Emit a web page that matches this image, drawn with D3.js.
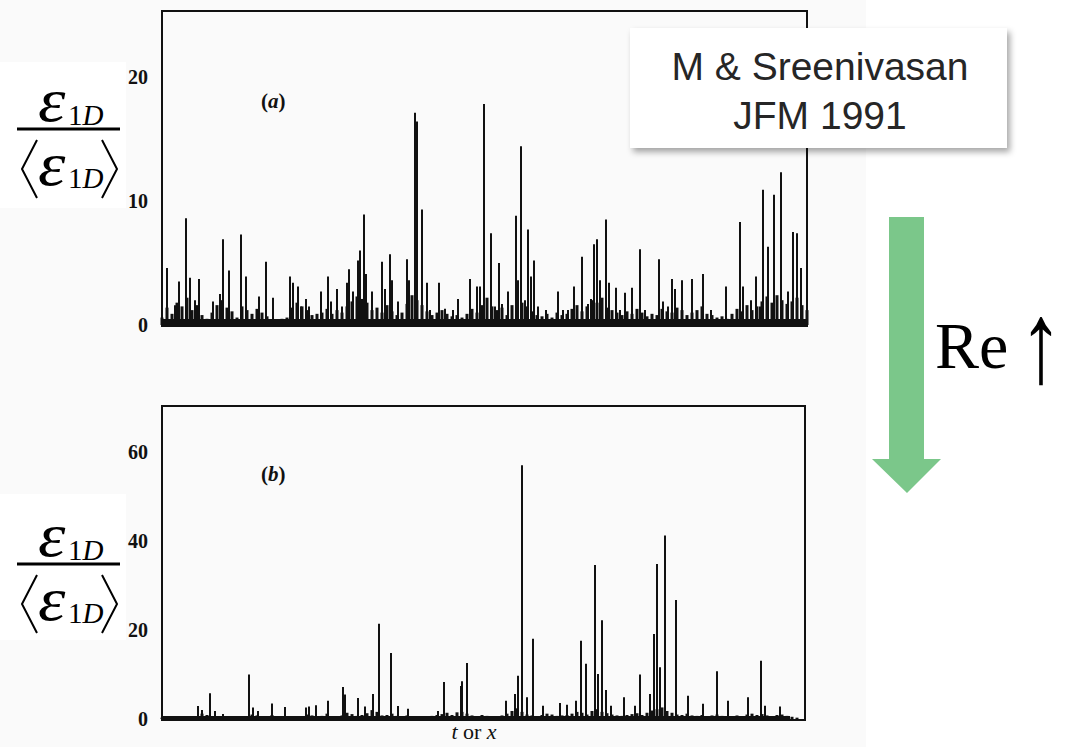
<!DOCTYPE html>
<html>
<head>
<meta charset="utf-8">
<script src="https://cdn.jsdelivr.net/npm/d3@7"></script>
<style>
  body { margin: 0; background: #fff; }
  svg { display: block; }
</style>
</head>
<body>
<div id="chart"></div>
<script>
const width = 1069;
const height = 747;

// ----- Data (arbitrary t units 0..645) -----
const ticksA = [0, 10, 20];
const ticksB = [0, 20, 40, 60];

// panel (a): isolated bursts
const peakTA = [5, 13, 17, 24, 28, 33, 37, 51, 58, 61, 67, 79, 84, 97, 104, 111, 128, 131, 136, 139,
  144, 147, 159, 166, 169, 175, 180, 185, 187, 191, 196, 198, 202, 204, 210, 220, 223, 228, 230, 236,
  245, 247, 253, 255, 260, 265, 268, 277, 283, 291, 296, 308, 315, 318, 322, 329, 333, 337, 340, 346,
  354, 356, 359, 363, 366, 369, 372, 376, 384, 396, 401, 406, 412, 420, 426, 429, 432, 435, 438, 444,
  447, 454, 458, 463, 470, 478, 483, 497, 501, 506, 510, 513, 520, 530, 541, 549, 564, 578, 581, 589,
  594, 598, 601, 606, 612, 619, 626, 631, 635, 639];
const peakVA = [4.6, 1.6, 3.5, 8.6, 3.8, 2.0, 3.7, 1.9, 2.5, 6.9, 4.4, 7.3, 3.9, 2.3, 5.1, 2.2, 3.9, 3.4, 3.1, 1.5,
  2.1, 1.5, 2.7, 3.9, 1.9, 2.9, 1.5, 3.4, 4.5, 2.7, 5.2, 6.0, 8.9, 4.1, 2.7, 5.1, 2.9, 5.7, 3.6, 1.9,
  5.3, 3.6, 17.1, 16.4, 9.3, 3.4, 1.2, 3.4, 1.3, 1.2, 2.1, 3.7, 3.1, 3.1, 17.8, 7.4, 1.5, 5.0, 1.7, 2.7,
  8.8, 3.6, 14.4, 2.0, 7.7, 3.9, 5.2, 1.5, 1.2, 2.7, 1.2, 1.2, 3.1, 5.5, 1.7, 2.1, 6.5, 6.9, 3.6, 8.5,
  3.4, 3.0, 1.2, 2.6, 3.0, 6.1, 1.2, 5.3, 1.9, 1.5, 3.7, 2.9, 3.6, 3.7, 4.1, 1.2, 3.1, 8.3, 3.1, 2.0,
  3.9, 1.5, 10.9, 6.3, 10.5, 12.3, 2.7, 7.5, 7.4, 4.6];
// panel (a): background level, one value every 5 t units
const floorA = [
  0.6, 1.4, 0.9, 1.8, 1.5, 2.2, 1.2, 1.6, 0.8, 0.5,
  1.0, 1.6, 2.0, 1.4, 1.1, 0.6, 1.5, 1.2, 0.9, 1.3,
  1.0, 0.7, 0.4, 0.3, 0.5, 0.6, 1.4, 1.8, 1.5, 1.2,
  0.8, 0.9, 1.0, 1.3, 0.9, 1.2, 1.0, 1.5, 1.9, 2.3,
  2.1, 1.8, 1.2, 1.4, 1.0, 1.6, 1.1, 0.8, 1.0, 1.7,
  2.4, 2.0, 1.6, 1.1, 0.8, 1.0, 1.2, 0.9, 0.7, 0.8,
  0.6, 0.9, 1.3, 1.0, 1.6, 2.2, 1.5, 1.2, 1.4, 0.8,
  1.6, 2.0, 1.8, 1.5, 1.1, 0.8, 0.7, 0.9, 0.6, 1.0,
  0.8, 0.9, 1.3, 1.6, 1.1, 1.5, 2.0, 1.8, 2.2, 1.4,
  1.2, 1.0, 0.8, 1.1, 0.9, 1.3, 1.0, 0.7, 0.9, 0.8,
  1.3, 1.1, 1.0, 1.4, 1.2, 0.8, 1.0, 1.2, 1.5, 0.9,
  0.8, 0.6, 0.7, 0.5, 0.9, 1.3, 1.1, 1.6, 1.2, 1.5,
  1.9, 2.3, 1.8, 2.4, 2.0, 1.7, 1.9, 2.2, 1.6, 1.2];

// panel (b): higher Re, rarer and stronger bursts
const peakTB = [36, 40, 48, 53, 61, 87, 91, 96, 110, 123, 144, 147, 154, 166, 181, 183, 196, 203, 211, 217,
  229, 236, 246, 276, 282, 299, 300, 305, 344, 353, 356, 360, 365, 371, 381, 398, 405, 414, 419, 424,
  433, 436, 440, 444, 449, 462, 473, 478, 488, 492, 495, 498, 503, 514, 526, 541, 555, 566, 586, 599,
  603, 618];
const peakVB = [2.9, 2.0, 5.8, 1.8, 1.1, 10.0, 2.6, 1.8, 3.5, 2.7, 2.6, 2.8, 3.1, 4.1, 7.2, 5.5, 4.7, 2.8, 5.6, 21.4,
  14.8, 2.9, 2.3, 1.8, 8.3, 7.4, 8.5, 12.6, 4.1, 5.6, 9.7, 57.0, 4.9, 18.0, 3.0, 3.6, 3.2, 4.1, 17.6, 12.4,
  34.6, 10.1, 22.2, 6.5, 3.0, 4.9, 3.0, 10.0, 5.6, 19.1, 34.8, 11.6, 41.2, 26.7, 5.2, 3.4, 10.7, 4.1, 4.9, 13.1,
  3.0, 2.8];
const floorB = [
  0.3, 0.4, 0.3, 0.2, 0.3, 0.2, 0.2, 0.6, 1.2, 0.9,
  0.5, 0.4, 0.3, 0.3, 0.2, 0.4, 0.3, 0.3, 1.0, 0.8,
  0.4, 0.3, 0.9, 0.5, 0.3, 0.6, 0.4, 0.3, 0.6, 1.0,
  0.8, 0.6, 0.7, 1.2, 0.6, 0.5, 0.8, 1.4, 1.1, 0.7,
  0.9, 1.3, 2.0, 1.6, 0.8, 0.9, 1.2, 0.7, 0.6, 0.8,
  0.5, 0.3, 0.4, 0.5, 0.7, 0.9, 1.1, 1.4, 0.9, 1.5,
  1.6, 1.2, 0.8, 0.6, 0.9, 0.7, 0.6, 0.5, 0.8, 1.2,
  1.8, 2.4, 1.6, 1.0, 0.8, 0.6, 0.9, 1.2, 1.0, 0.7,
  0.8, 0.9, 1.2, 1.6, 1.4, 1.0, 1.8, 2.2, 1.6, 1.3,
  1.0, 0.8, 0.7, 0.9, 1.1, 1.3, 0.9, 1.4, 1.9, 2.2,
  2.6, 1.8, 1.4, 1.0, 0.9, 1.2, 0.8, 0.7, 0.9, 0.6,
  0.8, 1.0, 0.7, 0.5, 0.6, 0.8, 0.6, 1.0, 1.2, 0.9,
  1.1, 0.8, 0.6, 0.9, 1.0, 0.7, 0.5, 0.3, 0.0, 0.0];

const ink = "#111";
const serif = "'Liberation Serif', 'Times New Roman', serif";
const sans = "'Liberation Sans', Arial, sans-serif";

const svg = d3.select("#chart")
    .append("svg")
    .attr("width", width)
    .attr("height", height);

// shadow for the citation box
const defs = svg.append("defs");
defs.append("filter").attr("id", "shadow")
    .attr("x", "-10%").attr("y", "-10%").attr("width", "130%").attr("height", "140%")
  .append("feDropShadow")
    .attr("dx", 3).attr("dy", 4).attr("stdDeviation", 3)
    .attr("flood-color", "#000").attr("flood-opacity", 0.35);

// scanned figure background
svg.append("rect")
    .attr("x", 0).attr("y", 0)
    .attr("width", 866).attr("height", height)
    .attr("fill", "#fafafa");

function drawPanel(p) {
    const x = d3.scaleLinear().domain([0, 645]).range([p.left, p.left + 645]);
    const y = d3.scaleLinear().domain([0, p.ymax]).range([p.base, p.top]);
    const g = svg.append("g");

    // dense low-level signal, drawn as short needles
    g.selectAll("line.floor")
        .data(p.floor)
        .join("line")
        .attr("class", "floor")
        .attr("x1", (d, i) => x(i * 5))
        .attr("x2", (d, i) => x(i * 5))
        .attr("y1", y(0))
        .attr("y2", d => y(d))
        .attr("stroke", ink)
        .attr("stroke-width", 3);

    // solid base band of the trace
    g.append("line")
        .attr("x1", x(0)).attr("x2", x(p.end))
        .attr("y1", y(0) - p.band / 2).attr("y2", y(0) - p.band / 2)
        .attr("stroke", ink)
        .attr("stroke-width", p.band);

    // spikes
    g.selectAll("line.spike")
        .data(d3.zip(p.peakT, p.peakV))
        .join("line")
        .attr("class", "spike")
        .attr("x1", d => x(d[0]))
        .attr("x2", d => x(d[0]))
        .attr("y1", y(0))
        .attr("y2", d => y(d[1]))
        .attr("stroke", ink)
        .attr("stroke-width", 2);

    // frame
    g.append("rect")
        .attr("x", p.left)
        .attr("y", p.top)
        .attr("width", p.right - p.left)
        .attr("height", y(0) + 1 - p.top)
        .attr("fill", "none")
        .attr("stroke", ink)
        .attr("stroke-width", 2);

    // tick labels only
    const ax = g.append("g")
        .attr("transform", `translate(${p.labelX},0)`)
        .call(d3.axisLeft(y).tickValues(p.ticks).tickSize(0).tickPadding(0));
    ax.select(".domain").remove();
    ax.selectAll("text")
        .attr("font-family", serif)
        .attr("font-weight", "bold")
        .attr("font-size", 20)
        .attr("fill", ink);

    // panel tag
    const tag = g.append("text")
        .attr("x", p.left + 99)
        .attr("y", p.tagY)
        .attr("font-family", serif)
        .attr("font-weight", "bold")
        .attr("font-size", 21)
        .attr("fill", ink);
    tag.append("tspan").text("(");
    tag.append("tspan").attr("font-style", "italic").text(p.tag);
    tag.append("tspan").text(")");
}

drawPanel({ left: 162, right: 807, top: 11, base: 325, ymax: 25.3, labelX: 148, end: 645, band: 6,
    ticks: ticksA, peakT: peakTA, peakV: peakVA, floor: floorA, tag: "a", tagY: 108 });
drawPanel({ left: 162, right: 805, top: 406, base: 719, ymax: 70.3, labelX: 148, end: 628, band: 3,
    ticks: ticksB, peakT: peakTB, peakV: peakVB, floor: floorB, tag: "b", tagY: 481 });

// x label
const xl = svg.append("text")
    .attr("x", 474).attr("y", 739)
    .attr("text-anchor", "middle")
    .attr("font-family", serif)
    .attr("font-size", 22)
    .attr("fill", ink);
xl.append("tspan").attr("font-style", "italic").text("t");
xl.append("tspan").text(" or ");
xl.append("tspan").attr("font-style", "italic").text("x");

// y label: eps_1D / <eps_1D>
function fraction(bar, boxTop, boxBottom) {
    const g = svg.append("g");
    g.append("rect")
        .attr("x", 0).attr("y", boxTop)
        .attr("width", 126).attr("height", boxBottom - boxTop)
        .attr("fill", "#fff");

    function eps(yb, ys) {
        g.append("text")
            .attr("transform", `translate(38,${yb}) scale(1.12,1)`)
            .attr("font-family", serif)
            .attr("font-style", "italic")
            .attr("font-size", 62)
            .attr("fill", "#000")
            .text("ε");
        const s = g.append("text")
            .attr("x", 68).attr("y", ys)
            .attr("font-family", serif)
            .attr("font-size", 29)
            .attr("fill", "#000");
        s.append("tspan").text("1");
        s.append("tspan").attr("font-style", "italic").text("D");
    }
    eps(bar - 8, bar - 4);
    eps(bar + 56, bar + 59);

    g.append("line")
        .attr("x1", 17).attr("x2", 120)
        .attr("y1", bar).attr("y2", bar)
        .attr("stroke", "#000").attr("stroke-width", 3);

    g.append("path")
        .attr("d", `M37,${bar + 11} L22,${bar + 40} L37,${bar + 69}`)
        .attr("fill", "none").attr("stroke", "#000").attr("stroke-width", 2);
    g.append("path")
        .attr("d", `M102,${bar + 11} L117,${bar + 40} L102,${bar + 69}`)
        .attr("fill", "none").attr("stroke", "#000").attr("stroke-width", 2);
}
fraction(129, 62, 208);
fraction(564, 494, 640);

// citation box
svg.append("rect")
    .attr("x", 630).attr("y", 28)
    .attr("width", 377).attr("height", 120)
    .attr("fill", "#fff")
    .attr("filter", "url(#shadow)");
svg.append("text")
    .attr("x", 820).attr("y", 80)
    .attr("text-anchor", "middle")
    .attr("font-family", sans)
    .attr("font-size", 39)
    .attr("fill", "#262626")
    .text("M & Sreenivasan");
svg.append("text")
    .attr("x", 820).attr("y", 129)
    .attr("text-anchor", "middle")
    .attr("font-family", sans)
    .attr("font-size", 39)
    .attr("fill", "#262626")
    .text("JFM 1991");

// green arrow
svg.append("path")
    .attr("d", "M889,217 L924,217 L924,459 L941,459 L907,493 L872,459 L889,459 Z")
    .attr("fill", "#7bc78a");

svg.append("text")
    .attr("x", 935).attr("y", 368)
    .attr("font-family", serif)
    .attr("font-size", 66)
    .attr("fill", "#000")
    .text("Re");
svg.append("text")
    .attr("transform", "translate(1041,382) scale(0.9,1.2)")
    .attr("text-anchor", "middle")
    .attr("font-family", serif)
    .attr("font-size", 96)
    .attr("fill", "#000")
    .text("↑");
</script>
</body>
</html>
